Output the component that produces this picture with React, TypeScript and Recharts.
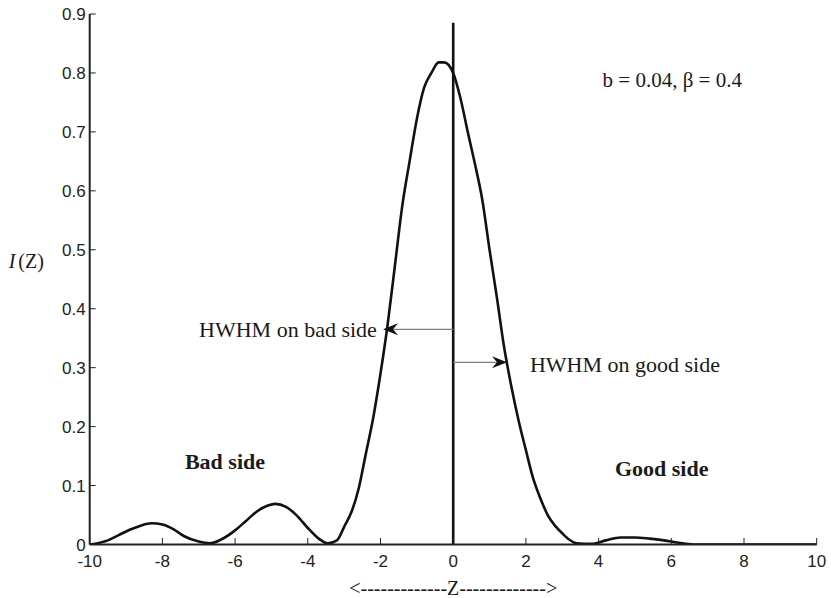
import React from 'react';
import { LineChart, Line, XAxis, YAxis, ReferenceLine, ReferenceDot } from 'recharts';

const zValues = [
  -10, -9.5, -9.2, -8.9, -8.6, -8.3, -8.0, -7.7, -7.4, -7.0, -6.7, -6.4, -6.0, -5.7, -5.4, -5.1,
  -4.9, -4.6, -4.3, -4.0, -3.7, -3.45, -3.2, -3.0, -2.8, -2.6, -2.4, -2.2, -2.0, -1.8, -1.6, -1.4,
  -1.2, -1.0, -0.8, -0.6, -0.4, -0.25, 0, 0.2, 0.4, 0.6, 0.8, 1.0, 1.2, 1.4, 1.6, 1.8, 2.0, 2.2,
  2.4, 2.6, 2.8, 3.0, 3.2, 3.4, 3.8, 4.2, 4.6, 5.0, 5.4, 5.8, 6.2, 6.6, 8, 10,
];
const intensity = [
  0, 0.007, 0.016, 0.025, 0.032, 0.036, 0.034, 0.026, 0.014, 0.005, 0.002, 0.008, 0.024, 0.04, 0.056, 0.066,
  0.069, 0.064, 0.049, 0.028, 0.01, 0.002, 0.007, 0.03, 0.055, 0.095, 0.155, 0.215, 0.29, 0.375, 0.475, 0.575,
  0.65, 0.722, 0.775, 0.8, 0.818, 0.818, 0.8, 0.757, 0.7, 0.645, 0.585, 0.5, 0.42, 0.335, 0.268, 0.21, 0.16, 0.112,
  0.078, 0.05, 0.032, 0.019, 0.008, 0.002, 0.001, 0.007, 0.012, 0.012, 0.01, 0.007, 0.003, 0, 0, 0,
];
const xTicks = [-10, -8, -6, -4, -2, 0, 2, 4, 6, 8, 10];
const yTicks = [0, 0.1, 0.2, 0.3, 0.4, 0.5, 0.6, 0.7, 0.8, 0.9];

// HWHM markers: [height, z at the curve]
const hwhmBad = [0.365, -1.93];
const hwhmGood = [0.309, 1.48];
const centreTop = 0.885;

const data = zValues.map((z, i) => ({ z, I: intensity[i] }));

const SANS = "'Liberation Sans', Arial, Helvetica, sans-serif";
const SERIF = "'Liberation Serif', 'Times New Roman', Times, serif";
const INK = '#222';

const BottomTick = (props: any) => {
  const { x, y, payload } = props;
  return (
    <g>
      <line x1={x} x2={x} y1={y - 16.5} y2={y - 23} stroke={INK} strokeWidth={1} />
      <text x={x} y={y} dy="0.36em" textAnchor="middle" fontFamily={SANS} fontSize={17} fill={INK}>
        {payload.value}
      </text>
    </g>
  );
};

const LeftTick = (props: any) => {
  const { x, y, payload } = props;
  return (
    <g>
      <line x1={x + 4} x2={x + 10} y1={y} y2={y} stroke={INK} strokeWidth={1} />
      <text x={x} y={y} dy="0.36em" textAnchor="end" fontFamily={SANS} fontSize={17} fill={INK}>
        {payload.value}
      </text>
    </g>
  );
};

const TopTick = (props: any) => {
  const { x, y } = props;
  return <line x1={x} x2={x} y1={y} y2={y + 6} stroke={INK} strokeWidth={1} />;
};

const RightTick = (props: any) => {
  const { x, y } = props;
  return <line x1={x} x2={x - 6} y1={y} y2={y} stroke={INK} strokeWidth={1} />;
};

const Arrow = (props: any) => {
  const { x1, y1, x2, y2 } = props;
  const dir = x2 > x1 ? 1 : -1;
  const head = `M${x2},${y2} L${x2 - dir * 15},${y2 - 6} L${x2 - dir * 10},${y2} L${x2 - dir * 15},${y2 + 6} Z`;
  return (
    <g>
      <line x1={x1} y1={y1} x2={x2 - dir * 10} y2={y2} stroke="#808080" strokeWidth={1.3} />
      <path d={head} fill="#111" />
    </g>
  );
};

const note = (text: string, anchor: string, bold = false, size = 22) => (p: any) => (
  <text x={p.cx} y={p.cy} textAnchor={anchor} fontFamily={SERIF} fontSize={size}
    fontWeight={bold ? 'bold' : 'normal'} fill="#1a1a1a">
    {text}
  </text>
);

export default function App() {
  return (
    <div style={{ position: 'absolute', left: 0, top: 0, background: '#fff' }}>
      <LineChart width={831} height={598} data={data}
        margin={{ top: 14, right: 14.3, bottom: 23.5, left: 29.7 }}>
        <XAxis xAxisId="b" dataKey="z" type="number" domain={[-10, 10]} ticks={xTicks}
          height={30} tickSize={0} tickMargin={16.5} tick={<BottomTick />} tickLine={false}
          axisLine={{ stroke: INK, strokeWidth: 2 }} allowDataOverflow
          label={{
            content: (p: any) => (
              <text x={p.viewBox.x + p.viewBox.width / 2} y={p.viewBox.y + p.viewBox.height + 20}
                textAnchor="middle" fontFamily={SERIF} fontSize={20} fill="#1a1a1a">
                {'<' + '-'.repeat(13) + 'Z' + '-'.repeat(13) + '>'}
              </text>
            ),
          }} />
        <XAxis xAxisId="t" dataKey="z" type="number" orientation="top" domain={[-10, 10]} ticks={xTicks}
          height={0} tickSize={0} tickMargin={0} tick={<TopTick />} tickLine={false}
          axisLine={{ stroke: INK, strokeWidth: 1.8 }} allowDataOverflow />
        <YAxis yAxisId="l" type="number" domain={[0, 0.9]} ticks={yTicks} width={60}
          tickSize={0} tickMargin={4} tick={<LeftTick />} tickLine={false}
          axisLine={{ stroke: INK, strokeWidth: 2 }} allowDataOverflow
          label={{
            content: (p: any) => (
              <text x={p.viewBox.x - 21} y={p.viewBox.y + p.viewBox.height / 2 - 11}
                fontFamily={SERIF} fontSize={20} fill="#1a1a1a">
                <tspan fontStyle="italic">I</tspan>
                <tspan dx={3}>(Z)</tspan>
              </text>
            ),
          }} />
        <YAxis yAxisId="r" type="number" orientation="right" domain={[0, 0.9]} ticks={yTicks} width={0}
          tickSize={0} tickMargin={0} tick={<RightTick />} tickLine={false}
          axisLine={{ stroke: INK, strokeWidth: 1.8 }} allowDataOverflow />
        <Line xAxisId="t" yAxisId="r" dataKey="I" stroke="none" dot={false} activeDot={false}
          isAnimationActive={false} legendType="none" />
        <ReferenceLine xAxisId="b" yAxisId="l" segment={[{ x: 0, y: 0 }, { x: 0, y: centreTop }]}
          stroke="#111" strokeWidth={2.6} />
        <ReferenceLine xAxisId="b" yAxisId="l"
          segment={[{ x: 0, y: hwhmBad[0] }, { x: hwhmBad[1], y: hwhmBad[0] }]} shape={<Arrow />} />
        <ReferenceLine xAxisId="b" yAxisId="l"
          segment={[{ x: 0, y: hwhmGood[0] }, { x: hwhmGood[1], y: hwhmGood[0] }]} shape={<Arrow />} />
        <Line xAxisId="b" yAxisId="l" type="monotone" dataKey="I" stroke="#111" strokeWidth={2.6}
          dot={false} activeDot={false} isAnimationActive={false} />
        <ReferenceDot xAxisId="b" yAxisId="l" x={-2.1} y={0.352} r={0} shape={note('HWHM on bad side', 'end')} />
        <ReferenceDot xAxisId="b" yAxisId="l" x={2.11} y={0.292} r={0} shape={note('HWHM on good side', 'start')} />
        <ReferenceDot xAxisId="b" yAxisId="l" x={-7.38} y={0.128} r={0} shape={note('Bad side', 'start', true)} />
        <ReferenceDot xAxisId="b" yAxisId="l" x={4.45} y={0.117} r={0} shape={note('Good side', 'start', true)} />
        <ReferenceDot xAxisId="b" yAxisId="l" x={4.11} y={0.777} r={0} shape={note('b = 0.04, β = 0.4', 'start', false, 21)} />
      </LineChart>
    </div>
  );
}
